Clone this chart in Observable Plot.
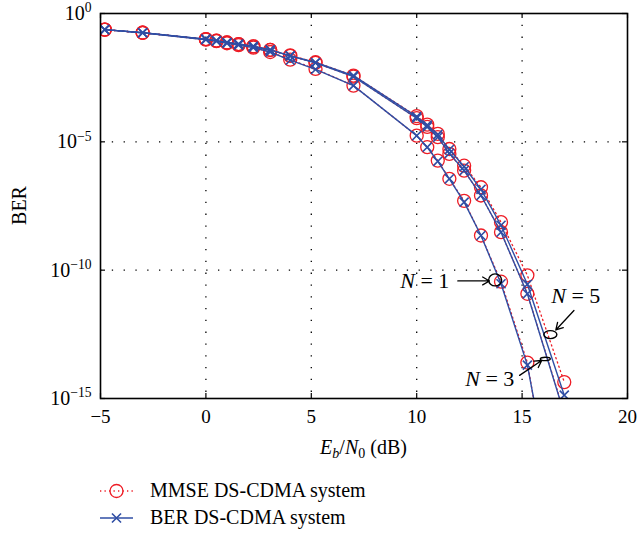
<!DOCTYPE html>
<html><head><meta charset="utf-8">
<script src="https://cdn.jsdelivr.net/npm/d3@7"></script>
<script src="https://cdn.jsdelivr.net/npm/@observablehq/plot@0.6"></script>
<style>body{margin:0;background:#fff;} svg{font-family:"Liberation Serif",serif;}</style>
</head><body><div id="chart"></div>
<script>
// Eb/N0 (dB) sample points
const ebn0 = [-4.8, -3, 0, 0.5, 1, 1.55, 2.25, 3.05, 4, 5.2, 7, 10, 10.5, 11, 11.55, 12.25, 13.05, 14, 15.25, 17];
// log10(BER)
const n5_mmse = [-0.63, -0.75, -1.0, -1.06, -1.13, -1.19, -1.28, -1.42, -1.63, -1.9, -2.42, -4.0, -4.33, -4.69, -5.28, -5.93, -6.77, -8.13, -10.2, -14.36];
const n5_ber  = [-0.63, -0.75, -1.0, -1.06, -1.13, -1.19, -1.28, -1.42, -1.65, -1.91, -2.42, -4.02, -4.35, -4.72, -5.3, -5.97, -6.85, -8.25, -10.55, -14.87];
const n3_mmse = [-0.63, -0.75, -1.0, -1.06, -1.13, -1.19, -1.28, -1.42, -1.65, -1.92, -2.46, -4.08, -4.42, -4.82, -5.47, -6.12, -7.09, -8.52, -10.92, -15.55];
const n3_ber  = [-0.63, -0.75, -1.0, -1.06, -1.13, -1.19, -1.28, -1.42, -1.65, -1.92, -2.46, -4.08, -4.42, -4.82, -5.45, -6.12, -7.09, -8.52, -10.92, -15.6];
const n1_mmse = [-0.63, -0.75, -1.02, -1.08, -1.16, -1.23, -1.33, -1.5, -1.8, -2.16, -2.81, -4.76, -5.21, -5.73, -6.44, -7.3, -8.65, -10.45, -13.6, -22];
const n1_ber  = [-0.63, -0.75, -1.02, -1.08, -1.16, -1.23, -1.33, -1.5, -1.82, -2.18, -2.81, -4.76, -5.21, -5.76, -6.44, -7.35, -8.65, -10.53, -13.7, -21.3];

const xTicks = [-5, 0, 5, 10, 15, 20];
const xGrid = [0, 5, 10, 15];
const yTicks = [1, 1e-5, 1e-10, 1e-15];
const yTickLabels = ["10^0", "10^−5", "10^−10", "10^−15"];
const yGrid = [1e-5, 1e-10];
const legendLabels = ["MMSE DS-CDMA system", "BER DS-CDMA system"];

// annotations (data coordinates: Eb/N0, log10 BER)
const annoText = [
  {label: "N = 1", x: 11.55, lb: -10.42},
  {label: "N = 5", x: 16.38, lb: -11.0},
  {label: "N = 3", x: 14.63, lb: -14.25}
];
const annoArrows = [
  {x1: 11.95, y1: -10.42, x2: 13.45, y2: -10.42},
  {x1: 17.46, y1: -11.57, x2: 16.6, y2: -12.33},
  {x1: 14.88, y1: -14.1, x2: 15.93, y2: -13.52}
];
const ringN1 = [{x: 13.72, lb: -10.38}];
const ringN5 = [{x: 16.34, lb: -12.51}];
const ringN3 = [{x: 16.1, lb: -13.46}];

const series = [
  {key: "N5", method: "MMSE", v: n5_mmse},
  {key: "N3", method: "MMSE", v: n3_mmse},
  {key: "N1", method: "MMSE", v: n1_mmse},
  {key: "N5", method: "BER", v: n5_ber},
  {key: "N3", method: "BER", v: n3_ber},
  {key: "N1", method: "BER", v: n1_ber}
];
const rows = series.flatMap(s => ebn0.map((x, i) => ({x, lb: s.v[i], key: s.key, method: s.method})));
const mm = rows.filter(d => d.method === "MMSE");
const bb = rows.filter(d => d.method === "BER");
const ber = d => 10 ** d.lb;

const RED = "#ee1c25", BLUE = "#2f4ea4";
const W = 638, H = 535, ML = 100, MR = 11, MT = 13, MB = 137;
const FW = W - ML - MR, FH = H - MT - MB, TK = 5;

function ellipse(rx, ry) {
  const k = 0.5523;
  return {draw(c) {
    c.moveTo(rx, 0);
    c.bezierCurveTo(rx, ry * k, rx * k, ry, 0, ry);
    c.bezierCurveTo(-rx * k, ry, -rx, ry * k, -rx, 0);
    c.bezierCurveTo(-rx, -ry * k, -rx * k, -ry, 0, -ry);
    c.bezierCurveTo(rx * k, -ry, rx, -ry * k, rx, 0);
    c.closePath();
  }};
}

const chart = Plot.plot({
  width: W, height: H, marginLeft: ML, marginRight: MR, marginTop: MT, marginBottom: MB,
  style: {fontFamily: "Liberation Serif", fontSize: "20px", background: "white", color: "black"},
  x: {domain: [-5, 20]},
  y: {type: "log", domain: [1e-15, 1]},
  marks: [
    Plot.gridX(xGrid, {stroke: "black", strokeOpacity: 1, strokeWidth: 1.3, strokeDasharray: "1.3,10.5"}),
    Plot.gridY(yGrid, {stroke: "black", strokeOpacity: 1, strokeWidth: 1.3, strokeDasharray: "1.3,10.5"}),
    Plot.line(mm, {x: "x", y: ber, z: "key", stroke: RED, strokeWidth: 1.3, strokeDasharray: "1.3,3.2", clip: true}),
    Plot.dot(mm, {x: "x", y: ber, r: 6.5, stroke: RED, strokeWidth: 1.3, fill: "none", clip: true}),
    Plot.line(bb, {x: "x", y: ber, z: "key", stroke: BLUE, strokeWidth: 1.4, clip: true}),
    Plot.dot(bb, {x: "x", y: ber, symbol: "times", r: 4.2, stroke: BLUE, strokeWidth: 1.6, clip: true}),
    Plot.tickX(xTicks, {x: d => d, stroke: "black", strokeWidth: 1.2, insetTop: FH - TK}),
    Plot.tickX(xTicks, {x: d => d, stroke: "black", strokeWidth: 1.2, insetBottom: FH - TK}),
    Plot.tickY(yTicks, {y: d => d, stroke: "black", strokeWidth: 1.2, insetRight: FW - TK}),
    Plot.tickY(yTicks, {y: d => d, stroke: "black", strokeWidth: 1.2, insetLeft: FW - TK}),
    Plot.frame({stroke: "black", strokeWidth: 1.6}),
    Plot.axisX({ticks: xTicks, tickSize: 0, tickPadding: 11, label: null, fontSize: 19,
      tickFormat: d => d < 0 ? "\u2212" + (-d) : String(d)}),
    Plot.axisY({ticks: yTicks, tickSize: 0, tickPadding: 9, label: null,
      tickFormat: d => yTickLabels[yTicks.indexOf(d)]}),
    Plot.arrow(annoArrows, {x1: "x1", y1: d => 10 ** d.y1, x2: "x2", y2: d => 10 ** d.y2,
      stroke: "black", strokeWidth: 1.3, headLength: 9}),
    Plot.dot(ringN1, {x: "x", y: ber, symbol: ellipse(6.5, 6), stroke: "black", strokeWidth: 1.4, fill: "none"}),
    Plot.dot(ringN5, {x: "x", y: ber, symbol: ellipse(6.5, 4), stroke: "black", strokeWidth: 1.4, fill: "none"}),
    Plot.dot(ringN3, {x: "x", y: ber, symbol: ellipse(5, 1.7), stroke: "black", strokeWidth: 1.4, fill: "none"}),
    Plot.text(annoText.filter(d => d.label !== "N = 5"), {x: "x", y: ber, text: "label", textAnchor: "end", fontSize: 22}),
    Plot.text(annoText.filter(d => d.label === "N = 5"), {x: "x", y: ber, text: "label", textAnchor: "start", fontSize: 22})
  ]
});
document.getElementById("chart").appendChild(chart);

const svg = d3.select(chart);
// superscripts on y tick labels
svg.selectAll('g[aria-label="y-axis tick label"] text').each(function() {
  const parts = this.textContent.split("^");
  const s = d3.select(this);
  s.text(null);
  s.append("tspan").text(parts[0]);
  s.append("tspan").attr("dy", "-0.55em").attr("font-size", "0.68em").text(parts[1]);
});
// italic N in annotations
svg.selectAll("text").each(function() {
  const t = this.textContent;
  if (!/^N = \d$/.test(t)) return;
  const s = d3.select(this);
  s.text(null);
  s.append("tspan").attr("font-style", "italic").text(t.slice(0, 1));
  s.append("tspan").text(t.slice(1));
});

// x-axis label
const cx = ML + FW / 2;
const xl = svg.append("text").attr("x", cx).attr("y", 454).attr("text-anchor", "middle").attr("font-size", 20);
xl.append("tspan").attr("font-style", "italic").text("E");
xl.append("tspan").attr("font-style", "italic").attr("font-size", 14).attr("dy", 4).text("b");
xl.append("tspan").attr("dy", -4).text("/");
xl.append("tspan").attr("font-style", "italic").text("N");
xl.append("tspan").attr("font-size", 14).attr("dy", 4).text("0");
xl.append("tspan").attr("dy", -4).text(" (dB)");

// y-axis label
svg.append("text").attr("transform", `translate(26,${MT + FH / 2}) rotate(-90)`)
  .attr("text-anchor", "middle").attr("font-size", 20).text("BER");

// legend
const lg = svg.append("g");
const rowsY = [491, 518];
[0, 1].forEach(i => {
  const y = rowsY[i];
  if (i === 0) {
    lg.append("line").attr("x1", 100).attr("x2", 133).attr("y1", y).attr("y2", y)
      .attr("stroke", RED).attr("stroke-width", 1.3).attr("stroke-dasharray", "1.3,3.2");
    lg.append("circle").attr("cx", 116.5).attr("cy", y).attr("r", 6.5).attr("fill", "none")
      .attr("stroke", RED).attr("stroke-width", 1.3);
  } else {
    lg.append("line").attr("x1", 100).attr("x2", 133).attr("y1", y).attr("y2", y)
      .attr("stroke", BLUE).attr("stroke-width", 1.4);
    lg.append("path").attr("d", d3.symbol(d3.symbolTimes, Math.PI * 4.2 * 4.2)())
      .attr("transform", `translate(116.5,${y})`).attr("fill", "none")
      .attr("stroke", BLUE).attr("stroke-width", 1.6);
  }
  lg.append("text").attr("x", 150).attr("y", y).attr("dy", "0.32em").attr("text-anchor", "start")
    .attr("font-size", 20).text(legendLabels[i]);
});
</script></body></html>
